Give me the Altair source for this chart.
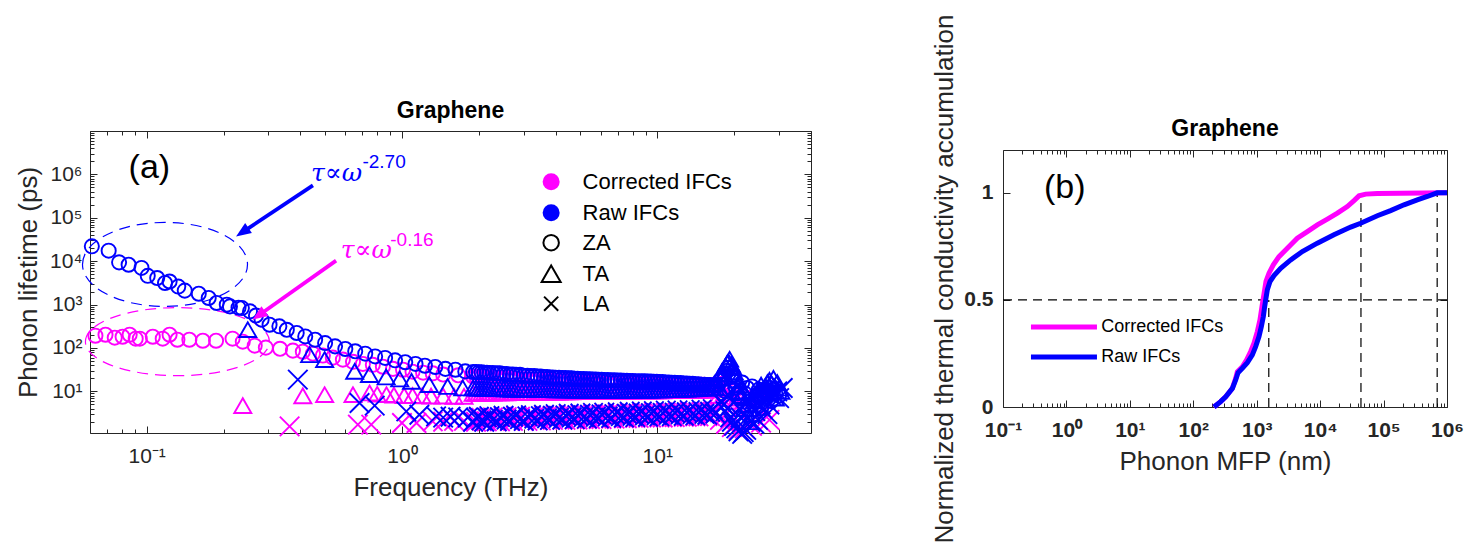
import altair as alt
import pandas as pd

MAG, BLU, AXC, FONT = "#FF00FF", "#0000FF", "#262626", "Liberation Sans"
models = ["Corrected IFCs", "Raw IFCs"]
branches = ["ZA", "TA", "LA"]

# ---------------- Panel (a): phonon lifetimes ----------------
cor_za_f = [0.063, 0.069, 0.075, 0.0805, 0.0858, 0.0906, 0.094, 0.1057, 0.1156, 0.123, 0.132, 0.147,
            0.166, 0.187, 0.217, 0.238, 0.265, 0.293, 0.333, 0.374, 0.409, 0.448, 0.49, 0.536, 0.587,
            0.643, 0.703, 0.769, 0.842, 0.922, 1.01, 1.10, 1.21, 1.32, 1.45, 1.66]
cor_za_tau = [192, 202, 173, 182, 202, 164, 164, 182, 164, 202, 155, 155, 147, 147, 164, 140, 113, 102,
              96, 87, 82, 74, 67, 60, 54, 48, 43, 41, 37, 33, 31.6, 28.5, 27, 26, 24.5, 23.5]
cor_ta_f = [0.238, 0.409, 0.498, 0.643, 0.747, 0.80, 0.87, 0.93, 1.02, 1.10, 1.20, 1.30, 1.45, 1.60, 1.75]
cor_ta_tau = [4.7, 7.9, 8.4, 8.4, 9.2, 8.6, 8.4, 8.2, 8.0, 8.0, 7.9, 7.8, 7.8, 7.7, 7.7]
cor_la_f = [0.363, 0.672, 0.758, 1.0, 1.14, 1.32, 1.45, 1.6, 1.75]
cor_la_tau = [1.56, 1.71, 1.71, 1.87, 1.87, 2.04, 2.0, 2.1, 2.1]

raw_za_f = [0.061, 0.071, 0.078, 0.085, 0.0955, 0.101, 0.110, 0.118, 0.123, 0.133, 0.141, 0.160, 0.175,
            0.188, 0.206, 0.212, 0.229, 0.236, 0.254, 0.268, 0.282, 0.303, 0.331, 0.354, 0.387, 0.418,
            0.457, 0.50, 0.547, 0.60, 0.656, 0.718, 0.785, 0.859, 0.94, 1.03, 1.13, 1.23, 1.35, 1.48,
            1.62, 1.77]
raw_za_tau = [2.2e4, 1.75e4, 9.4e3, 8.3e3, 7.0e3, 4.6e3, 4.1e3, 3.15e3, 3.4e3, 2.6e3, 2.1e3, 1.78e3,
              1.42e3, 1.09e3, 996, 910, 850, 832, 700, 560, 450, 344, 316, 263, 222, 185, 155, 130, 109,
              95, 84, 74, 64, 59, 52, 47, 43, 39, 36.5, 33, 31.6, 28.9]
raw_ta_f = [0.249, 0.435, 0.498, 0.653, 0.746, 0.867, 0.98, 1.09, 1.28, 1.51, 1.73]
raw_ta_tau = [264, 70, 54, 28.9, 24.3, 21.5, 19.3, 17, 14.3, 13, 12]
raw_la_f = [0.391, 0.682, 0.782, 1.04, 1.17, 1.36, 1.45, 1.55, 1.66, 1.81]
raw_la_tau = [18.6, 5.4, 4.7, 3.46, 2.9, 2.65, 2.48, 2.6, 2.53, 2.48]

# dense bands 1.9 - 17 THz (two interleaved frequency sets)
dense_f = [1.9, 2.0, 2.1, 2.2, 2.35, 2.5, 2.65, 2.8, 3.0, 3.2, 3.4, 3.6, 3.8, 4.0, 4.25, 4.5, 4.75,
           5.0, 5.3, 5.6, 5.9, 6.2, 6.6, 7.0, 7.4, 7.8, 8.2, 8.7, 9.2, 9.7, 10.2, 10.8, 11.4, 12.0,
           12.7, 13.4, 14.1, 14.9, 15.7, 16.5]
dense_f2 = [1.95, 2.05, 2.15, 2.27, 2.42, 2.57, 2.72, 2.9, 3.1, 3.3, 3.5, 3.7, 3.9, 4.12, 4.37, 4.62,
            4.87, 5.15, 5.45, 5.75, 6.05, 6.4, 6.8, 7.2, 7.6, 8.0, 8.45, 8.95, 9.45, 9.95, 10.5, 11.1,
            11.7, 12.35, 13.05, 13.75, 14.5, 15.3, 16.1, 16.9]
raw_za_dense = [28, 27.5, 27, 26.5, 26, 25, 24.5, 24, 23, 22.5, 22, 21.5, 21, 20.7, 20.3, 20, 19.6,
                19.3, 19, 18.7, 18.5, 18.3, 18, 17.8, 17.6, 17.4, 17.2, 17, 16.8, 16.6, 16.4, 16.1,
                15.8, 15.5, 15.2, 14.9, 14.6, 14.3, 14, 13.7]
raw_ta_dense = [12, 11.8, 11.7, 11.6, 11.5, 11.4, 11.3, 11.2, 11.1, 11.0, 11.0, 10.9, 10.9, 10.8,
                10.8, 10.8, 10.7, 10.7, 10.7, 10.7, 10.6, 10.6, 10.6, 10.6, 10.6, 10.6, 10.7, 10.7,
                10.7, 10.8, 10.8, 10.9, 11.0, 11.1, 11.2, 11.4, 11.6, 11.8, 12.0, 12.2]
raw_la_dense = [2.0, 2.6, 2.0, 2.7, 2.05, 2.75, 2.1, 2.8, 2.1, 2.85, 2.15, 2.9, 2.2, 3.0, 2.25, 3.05,
                2.3, 3.1, 2.35, 3.2, 2.4, 3.25, 2.45, 3.3, 2.5, 3.4, 2.55, 3.45, 2.6, 3.5, 2.65, 3.6,
                2.7, 3.65, 2.75, 3.7, 2.8, 3.8, 2.9, 3.9]
raw_la_dense2 = [2.45, 2.15, 2.5, 2.2, 2.55, 2.25, 2.6, 2.3, 2.65, 2.35, 2.7, 2.4, 2.75, 2.45, 2.8,
                 2.5, 2.85, 2.55, 2.9, 2.6, 2.95, 2.65, 3.0, 2.7, 3.05, 2.75, 3.1, 2.8, 3.15, 2.85,
                 3.2, 2.9, 3.25, 2.95, 3.3, 3.0, 3.35, 3.05, 3.4, 3.1]
cor_za_dense = [22, 21.6, 21.2, 20.8, 20.4, 20, 19.7, 19.4, 19, 18.7, 18.4, 18.1, 17.8, 17.6, 17.3,
                17.1, 16.9, 16.7, 16.5, 16.3, 16.1, 16, 15.8, 15.7, 15.5, 15.4, 15.3, 15.2, 15.1, 15,
                14.9, 14.8, 14.7, 14.6, 14.5, 14.4, 14.3, 14.2, 14.1, 14]
cor_ta_dense = [9.0, 9.0, 9.1, 9.1, 9.2, 9.2, 9.3, 9.3, 9.4, 9.4, 9.5, 9.5, 9.6, 9.6, 9.7, 9.7, 9.8,
                9.8, 9.9, 9.9, 10.0, 10.0, 10.0, 10.1, 10.1, 10.1, 10.2, 10.2, 10.2, 10.3, 10.3, 10.4,
                10.4, 10.5, 10.5, 10.6, 10.6, 10.7, 10.8, 10.9]
cor_la_dense = [2.0, 2.45, 2.05, 2.5, 2.05, 2.55, 2.1, 2.6, 2.1, 2.65, 2.15, 2.7, 2.2, 2.75, 2.2, 2.8,
                2.25, 2.85, 2.3, 2.9, 2.3, 2.95, 2.35, 3.0, 2.4, 3.05, 2.45, 3.1, 2.5, 3.15, 2.5, 3.2,
                2.55, 3.25, 2.6, 3.3, 2.65, 3.35, 2.7, 3.4]

# cluster near the zone boundary (17 - 31 THz)
raw_za_blob_f = [17.3, 17.6, 18.0, 18.3, 18.5, 18.8, 19.0, 19.5, 19.8, 20.3, 20.6, 21.0, 21.5, 22.0,
                 22.5, 23.0, 23.5, 24.0, 24.5, 25.0, 25.5, 26.0, 26.5, 27.0, 27.5, 28.0, 28.5, 29.0, 30.0]
raw_za_blob_tau = [14, 18, 20, 25, 10, 30, 35, 22, 18, 12, 9, 7, 16, 9, 12, 5, 13, 6, 8, 11, 4, 10, 7,
                   10, 12, 6, 11, 9, 8]
raw_ta_blob_f = [17.5, 17.8, 18.0, 18.2, 18.5, 18.8, 19.0, 19.2, 19.5, 19.8, 20.0, 20.3, 20.5, 20.8,
                 21.0, 21.2, 21.8, 22.0, 22.5, 22.8, 23.0, 23.5, 24.0, 24.5, 25.0, 25.5, 26.0, 26.5,
                 27.0, 27.5, 28.0, 28.5, 29.0, 29.5, 30.0, 30.5]
raw_ta_blob_tau = [12, 20, 30, 25, 38, 45, 48, 55, 42, 35, 28, 22, 18, 10, 14, 8, 10, 4, 7, 5, 2, 3,
                   6, 9, 11, 14, 9, 13, 16, 18, 15, 20, 7, 16, 12, 10]
raw_la_blob_f = [17.8, 18.2, 18.5, 18.8, 19.0, 19.3, 19.6, 20.0, 20.4, 20.8, 21.0, 21.2, 21.5, 21.8,
                 22.0, 22.3, 22.8, 23.2, 23.6, 24.0, 24.2, 24.8, 25.3, 25.8, 26.0, 26.5, 27.0, 27.5,
                 28.0, 28.5, 29.5, 30.0, 31.0]
raw_la_blob_tau = [6, 5, 3.5, 4, 8, 2.5, 2, 1.6, 1.4, 1.2, 4, 2.5, 1.05, 1.15, 3, 1.3, 6, 2, 4.5, 1.8,
                   3.5, 2.2, 5, 4, 7, 6.5, 3, 5, 8, 9, 10, 7, 12]
cor_za_blob_f = [17.2, 18.0, 19.0, 20.0, 21.5, 23.0, 25.0, 27.0]
cor_za_blob_tau = [13, 15, 12, 10, 8, 7, 8, 9]
cor_ta_blob_f = [17.4, 18.3, 19.2, 20.2, 21.5, 23.0, 24.5, 26.5]
cor_ta_blob_tau = [8, 9, 7, 6, 5, 4, 5, 6]
cor_la_blob_f = [17.6, 18.6, 19.6, 20.8, 22.0, 23.5, 25.5, 27.5]
cor_la_blob_tau = [2.2, 1.8, 1.5, 1.3, 1.4, 1.6, 1.9, 2.2]

# annotations of panel (a)
ell_f = [0.118, 0.132]
ell_tau = [8.43e3, 140]
arrow_tail_f = [0.448, 0.552]
arrow_tail_tau = [5.59e5, 1.03e4]
arrow_end_f = [0.245, 0.285]
arrow_end_tau = [5.28e4, 655]
arrow_tip_f = [0.224, 0.26]
arrow_tip_tau = [3.72e4, 449]
law_base = ["τ∝ω", "τ∝ω"]
law_base_f = [0.44, 0.576]
law_base_tau = [7.2e5, 1.2e4]
law_exp = ["-2.70", "-0.16"]
law_exp_f = [0.70, 0.90]
law_exp_tau = [1.43e6, 2.19e4]

# legend of panel (a)
leg_a_labels = ["Corrected IFCs", "Raw IFCs", "ZA", "TA", "LA"]
leg_a_sym_f = 3.84
leg_a_text_f = 5.1
leg_a_tau = [6.8e5, 1.31e5, 2.67e4, 5.15e3, 1.05e3]

# ---------------- Panel (b): accumulation ----------------
cor_mfp = [212, 270, 324, 413, 466, 495, 593, 694, 803, 906, 1023, 1126, 1211, 1271, 1334, 1400, 1562,
           1828, 2245, 3039, 4365, 6281, 9033, 1.30e4, 1.87e4, 2.68e4, 3.42e4, 4.10e4, 5.22e4, 7.97e4,
           1.86e5, 4.34e5, 1e6]
cor_acc = [0, 0.025, 0.048, 0.087, 0.134, 0.165, 0.188, 0.22, 0.259, 0.298, 0.352, 0.407, 0.469, 0.508,
           0.547, 0.586, 0.625, 0.664, 0.702, 0.741, 0.788, 0.819, 0.850, 0.877, 0.905, 0.936, 0.964,
           0.986, 0.994, 0.997, 0.998, 0.999, 1.0]
raw_mfp = [212, 270, 324, 413, 466, 507, 593, 711, 853, 962, 1086, 1182, 1271, 1334, 1400, 1470, 1619,
           1872, 2386, 3429, 5236, 9033, 1.65e4, 3.03e4, 4.35e4, 7.97e4, 1.29e5, 2.1e5, 3.4e5, 4.9e5,
           7.0e5, 1e6]
raw_acc = [0, 0.025, 0.048, 0.087, 0.126, 0.160, 0.181, 0.207, 0.243, 0.282, 0.329, 0.375, 0.422, 0.469,
           0.508, 0.547, 0.586, 0.614, 0.648, 0.687, 0.726, 0.765, 0.804, 0.840, 0.858, 0.893, 0.917,
           0.944, 0.967, 0.983, 1.0, 1.0]
guide_x = [0.1, 1.55e3, 4.4e4, 7.0e5]
guide_x2 = [1e6, 1.55e3, 4.4e4, 7.0e5]
guide_y = [0.5, 0, 0, 0]
guide_y2 = [0.5, 0.5, 0.98, 1.0]
leg_b_x = 0.276
leg_b_x2 = 3.03
leg_b_text_x = 3.55
leg_b_y = [0.374, 0.234]
title_b_x = 316.2
title_b_y = 1.265

# ---------------- tables ----------------
rows = []


def add(model, branch, fs, ts):
    assert len(fs) == len(ts), (model, branch, len(fs), len(ts))
    for a, b in zip(fs, ts):
        rows.append({"f": a, "tau": b, "model": model, "branch": branch})


for m, za, ta, la in [
    ("Corrected IFCs",
     [(cor_za_f, cor_za_tau), (dense_f, cor_za_dense), (dense_f2, cor_za_dense), (cor_za_blob_f, cor_za_blob_tau)],
     [(cor_ta_f, cor_ta_tau), (dense_f, cor_ta_dense), (dense_f2, cor_ta_dense), (cor_ta_blob_f, cor_ta_blob_tau)],
     [(cor_la_f, cor_la_tau), (dense_f, cor_la_dense), (dense_f2, cor_la_dense), (cor_la_blob_f, cor_la_blob_tau)]),
    ("Raw IFCs",
     [(raw_za_f, raw_za_tau), (dense_f, raw_za_dense), (dense_f2, raw_za_dense), (raw_za_blob_f, raw_za_blob_tau)],
     [(raw_ta_f, raw_ta_tau), (dense_f, raw_ta_dense), (dense_f2, raw_ta_dense), (raw_ta_blob_f, raw_ta_blob_tau)],
     [(raw_la_f, raw_la_tau), (dense_f, raw_la_dense), (dense_f2, raw_la_dense2), (raw_la_blob_f, raw_la_blob_tau)]),
]:
    for br, parts in zip(branches, [za, ta, la]):
        for fs, ts in parts:
            add(m, br, fs, ts)
df_a = pd.DataFrame(rows)

XPATH = "M-1,-1L1,1M-1,1L1,-1"
HEAD = "M0,0L0.4,1L-0.4,1Z"
ELL_B = ("M-1,0C-1,-0.2811,-0.5523,-0.509,0,-0.509C0.5523,-0.509,1,-0.2811,1,0"
         "C1,0.2811,0.5523,0.509,0,0.509C-0.5523,0.509,-1,0.2811,-1,0Z")
ELL_M = ("M-1,0C-1,-0.2043,-0.5523,-0.37,0,-0.37C0.5523,-0.37,1,-0.2043,1,0"
         "C1,0.2043,0.5523,0.37,0,0.37C-0.5523,0.37,-1,0.2043,-1,0Z")

cols = [MAG, BLU]
df_arrow = pd.DataFrame({"f": arrow_tail_f, "tau": arrow_tail_tau, "f2": arrow_end_f,
                         "tau2": arrow_end_tau, "c": [BLU, MAG]})
df_tip = pd.DataFrame({"f": arrow_tip_f, "tau": arrow_tip_tau, "c": [BLU, MAG]})
df_law = pd.DataFrame({"f": law_base_f, "tau": law_base_tau, "t": law_base, "c": [BLU, MAG]})
df_exp = pd.DataFrame({"f": law_exp_f, "tau": law_exp_tau, "t": law_exp, "c": [BLU, MAG]})
df_lab_a = pd.DataFrame({"f": [0.085], "tau": [8.4e5], "t": ["(a)"]})
df_leg_a = pd.DataFrame({
    "f": [leg_a_sym_f] * 5, "tau": leg_a_tau, "t": leg_a_labels, "tf": [leg_a_text_f] * 5,
    "shp": ["circle", "circle", "circle", "triangle-up", XPATH],
    "fl": [MAG, BLU, "transparent", "transparent", "transparent"],
    "st": ["transparent", "transparent", "black", "black", "black"],
    "sz": [289, 289, 240, 361, 200],
})

df_b = pd.concat([
    pd.DataFrame({"mfp": cor_mfp, "acc": cor_acc, "model": models[0]}),
    pd.DataFrame({"mfp": raw_mfp, "acc": raw_acc, "model": models[1]}),
])
df_guides = pd.DataFrame({"mfp": guide_x, "mfp2": guide_x2, "acc": guide_y, "acc2": guide_y2})
df_lab_b = pd.DataFrame({"mfp": [0.443], "acc": [0.977], "t": ["(b)"]})
df_leg_b = pd.DataFrame({"mfp": [leg_b_x] * 2, "mfp2": [leg_b_x2] * 2, "acc": leg_b_y,
                         "tx": [leg_b_text_x] * 2, "t": models, "c": cols})
df_title_b = pd.DataFrame({"mfp": [title_b_x], "acc": [title_b_y], "t": ["Graphene"]})

# ---------------- helpers ----------------
SUP = {"-": "⁻", "0": "⁰", "1": "¹", "2": "²", "3": "³", "4": "⁴", "5": "⁵",
       "6": "⁶", "7": "⁷", "8": "⁸", "9": "⁹"}


def sup(e):
    return "10" + "".join(SUP[c] for c in str(e))


def label_expr(exps):
    expr = "''"
    for e in reversed(exps):
        expr = f"(round(log(datum.value)/LN10) == {e}) ? '{sup(e)}' : {expr}"
    return expr


def minor(lo_exp, hi_exp, lo, hi):
    out = []
    for d in range(lo_exp, hi_exp + 1):
        for k in range(2, 10):
            v = k * 10.0 ** d
            if lo <= v <= hi:
                out.append(v)
    return out


def tick_layers(df, xf, yf, xs, ys, xmaj, xmin, ymaj, ymin, W, H):
    def ax(orient, vals, size, off, dom):
        if not vals:
            return None
        return alt.Axis(orient=orient, values=vals, tickSize=size, offset=off, labels=False,
                        domain=dom, domainColor=AXC, domainWidth=1, tickColor=AXC, tickWidth=1,
                        grid=False, title=None)
    specs = [("top", "right", xmaj, ymaj, 7, False),
             ("top", "right", xmin, ymin, 4, False),
             ("bottom", "left", xmaj, ymaj, 7, True),
             ("bottom", "left", xmin, ymin, 4, False)]
    out = []
    for xo, yo, xv, yv, sz, dom in specs:
        out.append(alt.Chart(df).mark_point(opacity=0).encode(
            x=alt.X(f"{xf}:Q", scale=xs, axis=ax(xo, xv, sz, -H, dom)),
            y=alt.Y(f"{yf}:Q", scale=ys, axis=ax(yo, yv, sz, -W, dom)),
        ))
    return out


# ---------------- panel (a) ----------------
WA, HA = 721, 302
xA = alt.Scale(type="log", domain=[0.06, 40], nice=False)
yA = alt.Scale(type="log", domain=[1.1, 1e7], nice=False)


def xa(field="f"):
    return alt.X(f"{field}:Q", scale=xA, axis=None)


def ya(field="tau"):
    return alt.Y(f"{field}:Q", scale=yA, axis=None)


pts = alt.Chart(df_a).mark_point(filled=False, strokeWidth=1.9, opacity=1).encode(
    x=alt.X("f:Q", scale=xA, axis=alt.Axis(
        orient="bottom", values=[0.1, 1, 10], labelExpr=label_expr([-1, 0, 1]), ticks=False,
        domain=True, domainColor=AXC, grid=False, title="Frequency (THz)", titleFontSize=26,
        titleFontWeight="normal", titleColor=AXC, labelFontSize=21, labelColor=AXC,
        labelPadding=12, titlePadding=8, labelFlush=False)),
    y=alt.Y("tau:Q", scale=yA, axis=alt.Axis(
        orient="left", values=[10, 100, 1e3, 1e4, 1e5, 1e6], labelExpr=label_expr([1, 2, 3, 4, 5, 6]),
        ticks=False, domain=True, domainColor=AXC, grid=False, title="Phonon lifetime (ps)",
        titleFontSize=26, titleFontWeight="normal", titleColor=AXC, labelFontSize=21,
        labelColor=AXC, labelPadding=8, titlePadding=8)),
    color=alt.Color("model:N", scale=alt.Scale(domain=models, range=cols), legend=None),
    shape=alt.Shape("branch:N", scale=alt.Scale(domain=branches, range=["circle", "triangle-up", XPATH]),
                    legend=None),
    size=alt.Size("branch:N", scale=alt.Scale(domain=branches, range=[200, 380, 180]), legend=None),
)

leg_sym = alt.Chart(df_leg_a).mark_point(opacity=1, strokeWidth=2).encode(
    x=xa(), y=ya(),
    shape=alt.Shape("shp:N", scale=None), fill=alt.Fill("fl:N", scale=None),
    stroke=alt.Stroke("st:N", scale=None), size=alt.Size("sz:Q", scale=None))
leg_txt = alt.Chart(df_leg_a).mark_text(align="left", baseline="middle", fontSize=22,
                                        color="black").encode(x=xa("tf"), y=ya(), text="t:N")

ell_blue = alt.Chart(pd.DataFrame({"f": [ell_f[0]], "tau": [ell_tau[0]]})).mark_point(
    shape=ELL_B, size=27225, filled=False, stroke=BLU, strokeWidth=1.2, strokeDash=[11, 7], opacity=1
).encode(x=xa(), y=ya())
ell_mag = alt.Chart(pd.DataFrame({"f": [ell_f[1]], "tau": [ell_tau[1]]})).mark_point(
    shape=ELL_M, size=33856, filled=False, stroke=MAG, strokeWidth=1.2, strokeDash=[11, 7], opacity=1
).encode(x=xa(), y=ya())

arrows = alt.Chart(df_arrow).mark_rule(strokeWidth=3.8).encode(
    x=xa(), y=ya(), x2="f2:Q", y2="tau2:Q", color=alt.Color("c:N", scale=None))
head_b = alt.Chart(df_tip.iloc[[0]]).mark_point(shape=HEAD, size=900, filled=True, opacity=1,
                                                 angle=236, color=BLU).encode(x=xa(), y=ya())
head_m = alt.Chart(df_tip.iloc[[1]]).mark_point(shape=HEAD, size=900, filled=True, opacity=1,
                                                 angle=235, color=MAG).encode(x=xa(), y=ya())
law = alt.Chart(df_law).mark_text(align="left", baseline="alphabetic", font="DejaVu Serif",
                                  fontStyle="italic", fontSize=25).encode(
    x=xa(), y=ya(), text="t:N", color=alt.Color("c:N", scale=None))
lawexp = alt.Chart(df_exp).mark_text(align="left", baseline="alphabetic", fontSize=19).encode(
    x=xa(), y=ya(), text="t:N", color=alt.Color("c:N", scale=None))
lab_a = alt.Chart(df_lab_a).mark_text(align="left", baseline="alphabetic", fontSize=34,
                                      color="black").encode(x=xa(), y=ya(), text="t:N")

ticks_a = tick_layers(pd.DataFrame({"f": [1.0], "tau": [100.0]}), "f", "tau", xA, yA,
                      [0.1, 1, 10], [0.06, 0.07, 0.08, 0.09] + minor(-1, 1, 0.15, 40),
                      [10.0 ** k for k in range(1, 8)], minor(0, 6, 1.1, 1e7), WA, HA)

panel_a = alt.layer(ell_blue, ell_mag, pts, arrows, head_b, head_m, law, lawexp, lab_a,
                    leg_sym, leg_txt, *ticks_a).resolve_axis(x="independent", y="independent").properties(
    width=WA, height=HA,
    title=alt.Title("Graphene", fontSize=23, fontWeight="bold", color="black", offset=8))

# ---------------- panel (b) ----------------
WB, HB = 444, 257
xB = alt.Scale(type="log", domain=[0.1, 1e6], nice=False)
yB = alt.Scale(domain=[0, 1.2], nice=False, zero=False)
colorB = alt.Color("model:N", scale=alt.Scale(domain=models, range=cols), legend=None)


def xb(field="mfp"):
    return alt.X(f"{field}:Q", scale=xB, axis=None)


def yb(field="acc"):
    return alt.Y(f"{field}:Q", scale=yB, axis=None)


line_c = alt.Chart(df_b[df_b.model == models[0]]).mark_line(strokeWidth=5).encode(
    x=alt.X("mfp:Q", scale=xB, axis=alt.Axis(
        orient="bottom", values=[10.0 ** k for k in range(-1, 7)], labelExpr=label_expr(list(range(-1, 7))),
        ticks=False, domain=True, domainColor=AXC, grid=False, title="Phonon MFP (nm)",
        titleFontSize=26, titleFontWeight="normal", titleColor=AXC, labelFontSize=21,
        labelFontWeight="bold", labelColor=AXC, labelPadding=12, titlePadding=8, labelFlush=False)),
    y=alt.Y("acc:Q", scale=yB, axis=alt.Axis(
        orient="left", values=[0, 0.5, 1], format="~g", ticks=False, domain=True, domainColor=AXC,
        grid=False, title="Normalized thermal conductivity accumulation", titleFontSize=26,
        titleFontWeight="normal", titleColor=AXC, labelFontSize=21, labelFontWeight="bold",
        labelColor=AXC, labelPadding=10, titlePadding=6)),
    color=colorB,
)
line_r = alt.Chart(df_b[df_b.model == models[1]]).mark_line(strokeWidth=5).encode(
    x=xb(), y=yb(), color=colorB)
guides = alt.Chart(df_guides).mark_rule(color="black", strokeWidth=1.2, strokeDash=[9, 6]).encode(
    x=xb(), x2="mfp2:Q", y=yb(), y2="acc2:Q")
lab_b = alt.Chart(df_lab_b).mark_text(align="left", baseline="alphabetic", fontSize=34,
                                      color="black").encode(x=xb(), y=yb(), text="t:N")
leg_b_lines = alt.Chart(df_leg_b).mark_rule(strokeWidth=5).encode(
    x=xb(), x2="mfp2:Q", y=yb(), color=alt.Color("c:N", scale=None))
leg_b_txt = alt.Chart(df_leg_b).mark_text(align="left", baseline="middle", fontSize=18,
                                          color="black").encode(x=xb("tx"), y=yb(), text="t:N")
title_b = alt.Chart(df_title_b).mark_text(align="center", baseline="alphabetic", fontSize=23,
                                          fontWeight="bold", color="black").encode(
    x=xb(), y=yb(), text="t:N")

ticks_b = tick_layers(pd.DataFrame({"mfp": [10.0], "acc": [0.5]}), "mfp", "acc", xB, yB,
                      [10.0 ** k for k in range(-1, 7)], minor(-1, 5, 0.1, 1e6),
                      [0, 0.5, 1], [], WB, HB)

panel_b = alt.layer(guides, line_c, line_r, lab_b, leg_b_lines, leg_b_txt, title_b,
                    *ticks_b).resolve_axis(x="independent", y="independent").properties(
    width=WB, height=HB)

spacer = alt.Chart(pd.DataFrame({"s": [0]})).mark_point(opacity=0).encode(
    x=alt.X("s:Q", axis=None), y=alt.Y("s:Q", axis=None)).properties(width=10, height=19)

chart = alt.hconcat(
    panel_a,
    alt.vconcat(spacer, panel_b, spacing=0, bounds="flush"),
    spacing=119,
).configure(font=FONT).configure_view(stroke=None).properties(
    padding={"left": 7, "top": 6, "right": 0, "bottom": 0}, background="white")

chart.save("out.html", embed_options={"renderer": "svg", "actions": False})
